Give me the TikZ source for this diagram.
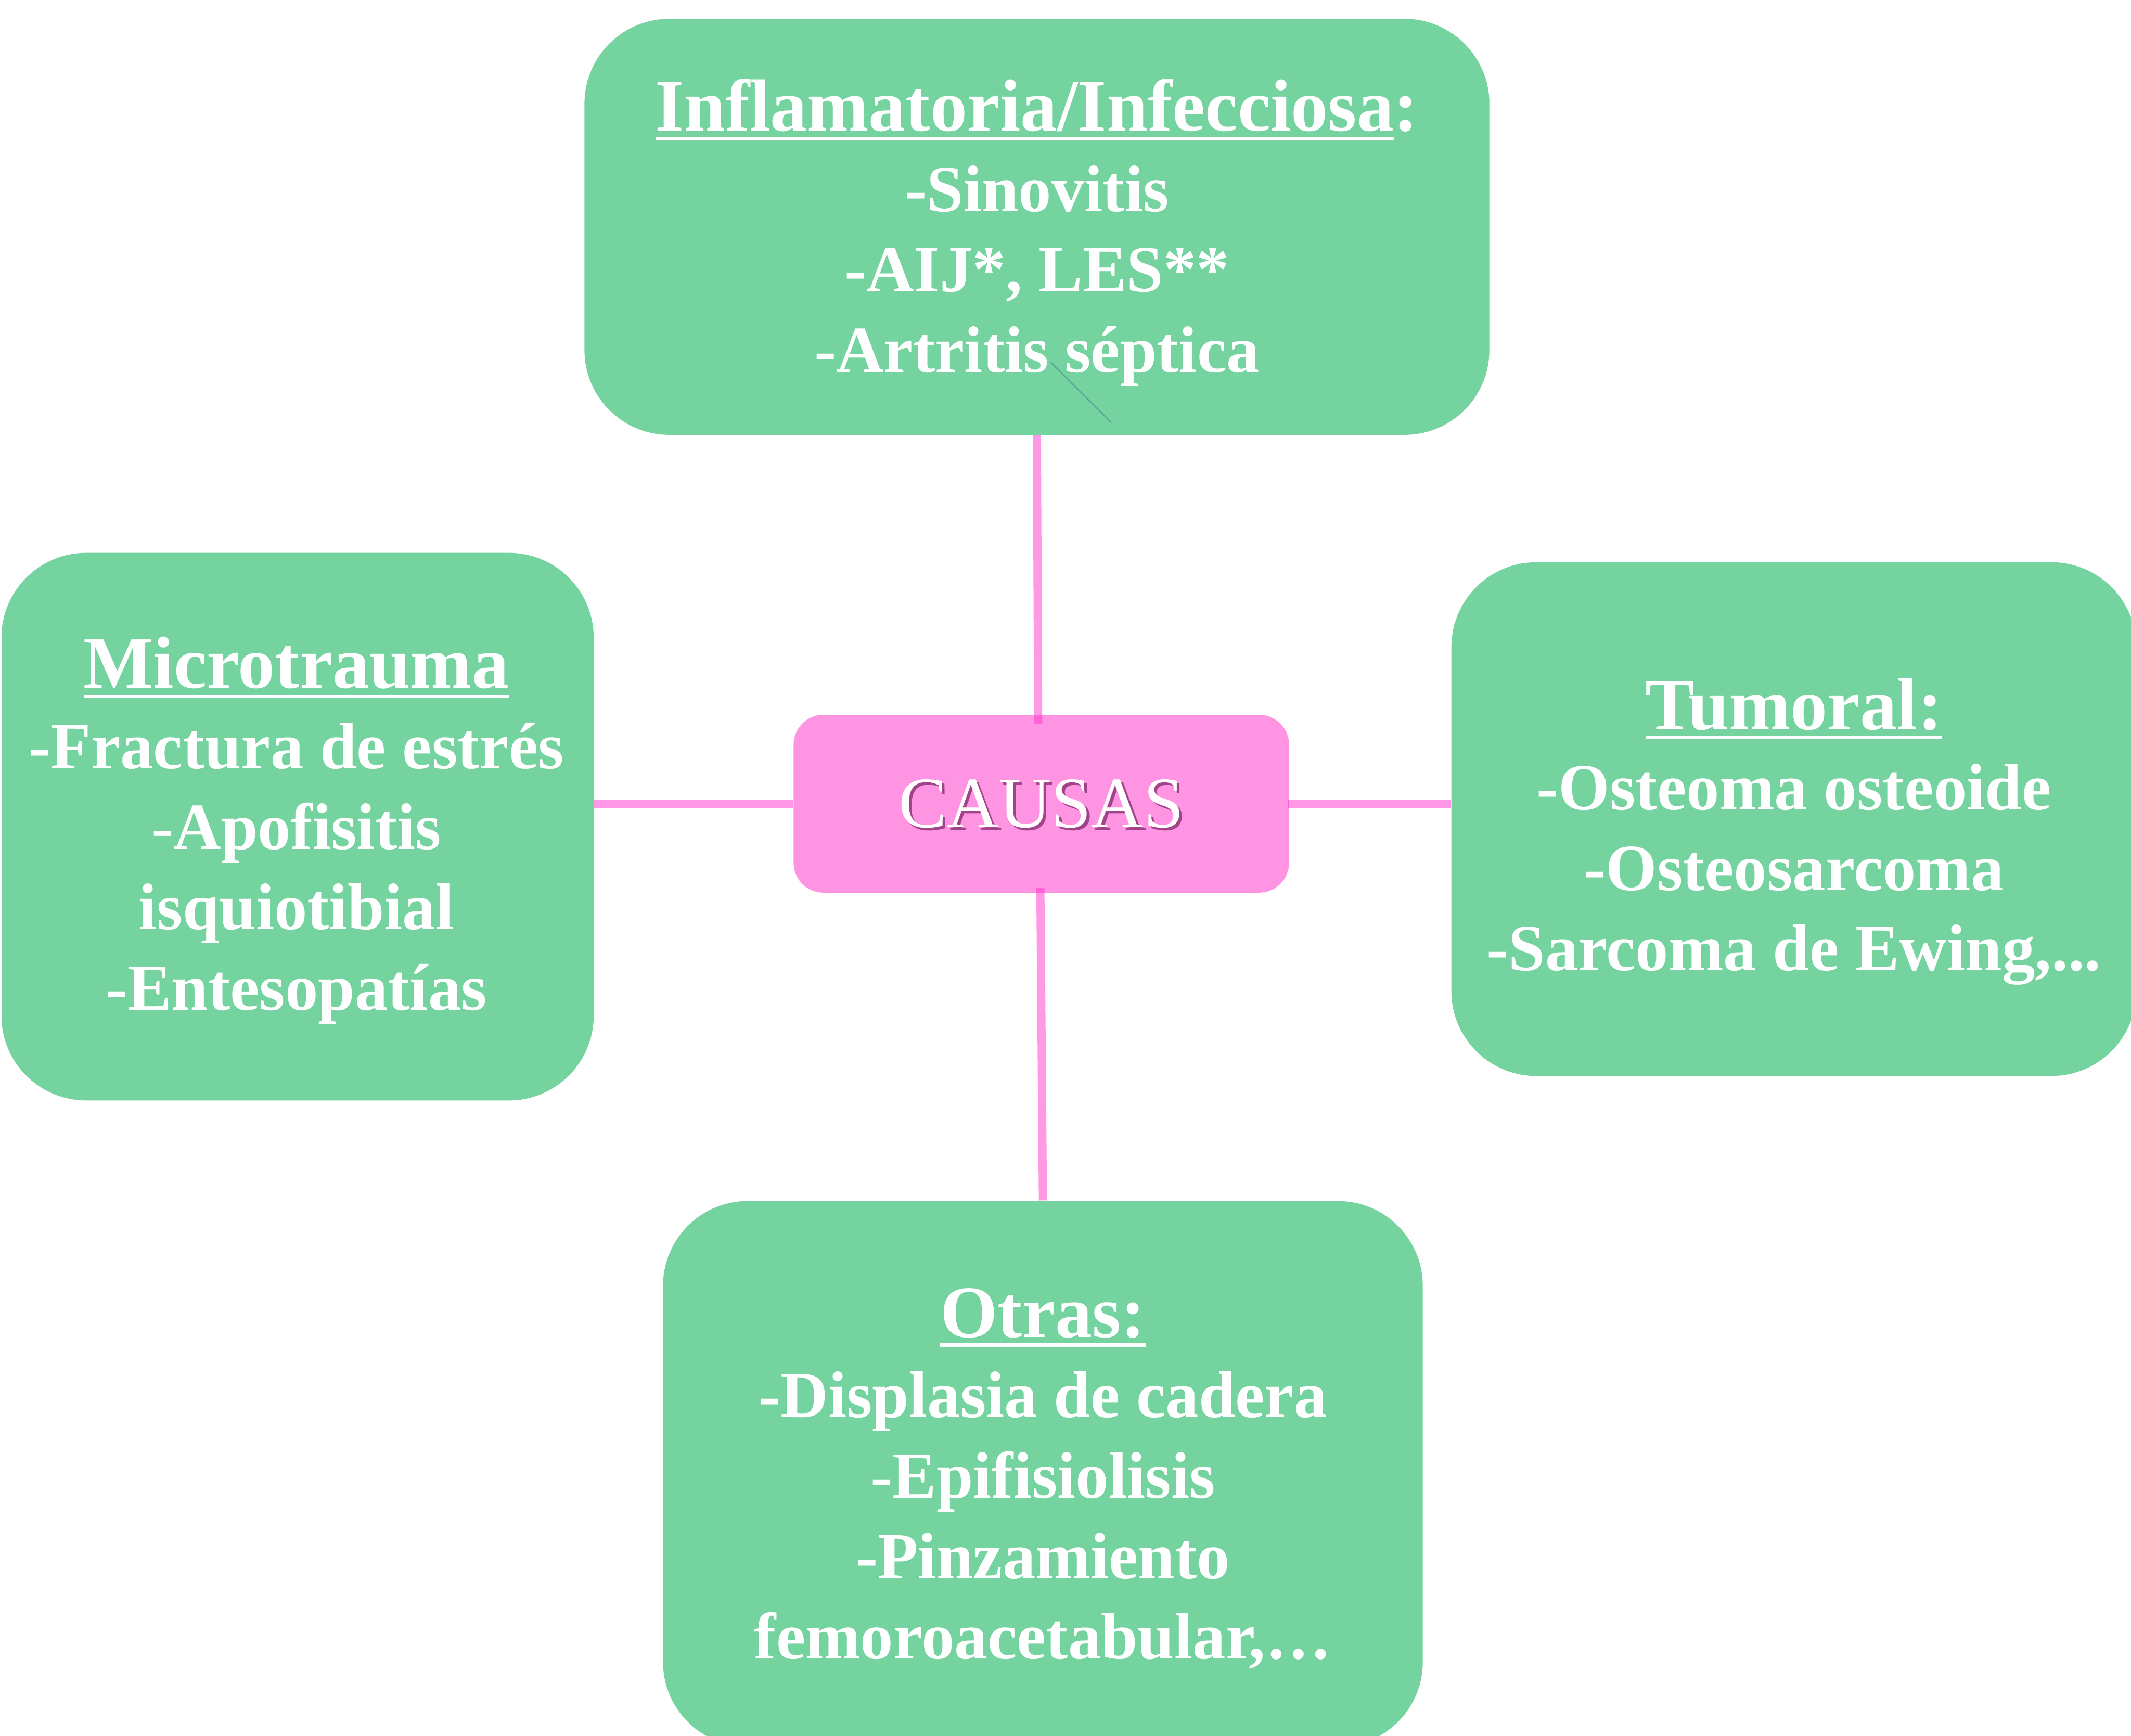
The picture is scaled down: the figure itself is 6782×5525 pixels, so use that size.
\documentclass[tikz,border=0pt]{standalone}
\usepackage{fontspec}
\setmainfont{Liberation Serif}
\usetikzlibrary{calc}

\definecolor{leaf}{RGB}{116,211,159}
\definecolor{blush}{RGB}{255,148,227}
\definecolor{linkpink}{RGB}{255,51,204}
\definecolor{plum}{RGB}{120,35,100}
\definecolor{strayteal}{RGB}{60,120,140}

% underline drawn as a rule just below the baseline
\newlength\ulwidth
\newcommand\ulbar[1]{\settowidth\ulwidth{#1}\rlap{\rule[-3.1pt]{\ulwidth}{1.1pt}}#1}
% heading size inside the boxes
\newcommand\headsize{\fontsize{23.5}{25.6}\selectfont}

\begin{document}
\begin{tikzpicture}[x=0.1pt,y=-0.1pt,
  group/.style={fill=leaf, rounded corners=27pt, inner sep=0pt},
  grouptext/.style={text=white, align=center, inner sep=0pt,
    font=\bfseries\fontsize{21}{25.6}\selectfont},
  hub/.style={fill=blush, rounded corners=9.5pt, inner sep=0pt,
    minimum width=157.7pt, minimum height=56.6pt},
  hubtext/.style={font=\fontsize{23}{26}\selectfont, inner sep=0pt},
  link/.style={draw=linkpink, draw opacity=0.5, line width=2.6pt}]
\useasboundingbox (0,0) rectangle (6782,5525);

% category boxes
\node[group, minimum width=288pt, minimum height=132.4pt] (top) at (3300,722) {};
\node[group, minimum width=188.5pt, minimum height=174.3pt] (left) at (947,2631) {};
\node[group, minimum width=218pt, minimum height=163.5pt] (right) at (5709,2607) {};
\node[group, minimum width=241.8pt, minimum height=173.7pt] (bottom) at (3319,4691) {};

% thin stray stroke inside the top box
\coordinate (strayA) at (3344,1153);
\coordinate (strayB) at (3537,1345);
\draw[strayteal, line width=0.35pt, opacity=0.55] (strayA) -- (strayB);

% box contents
\node[grouptext] (toptext) at ($(top)+(0,18)$)
  {{\headsize\ulbar{Inflamatoria/Infecciosa}:}\\-Sinovitis\\-AIJ*, LES**\\-Artritis séptica};
\node[grouptext] (lefttext) at ($(left)+(-4,12)$)
  {{\headsize\ulbar{Microtrauma}}\\-Fractura de estrés\\{\mdseries-}Apofisitis\\isquiotibial\\-Entesopatías};
\node[grouptext] (righttext) at ($(right)+(0,40)$)
  {{\headsize\ulbar{Tumoral:}}\\-Osteoma osteoide\\-Osteosarcoma\\-Sarcoma de Ewing,...};
\node[grouptext] (bottomtext) at ($(bottom)+(0,15)$)
  {{\headsize\ulbar{Otras:}}\\-Displasia de cadera\\-Epifisiolisis\\-Pinzamiento\\femoroacetabular,…};

% central hub
\node[hub] (hub) at (3314,2558) {};
\node[hubtext, text=plum, opacity=0.7] (hubshadow) at ($(hub)+(9,9)$) {CAUSAS};
\node[hubtext, text=white] (hubtitle) at (hub) {CAUSAS};

% connectors
\draw[link] (top.south) -- ($(hub.north)+(-10,30)$);
\draw[link] ($(hub.south)+(-3,-17)$) -- (bottom.north);
\draw[link] (left.east |- hub.west) -- (hub.west);
\draw[link] ($(hub.east)+(-6,0)$) -- (right.west |- hub.east);
\end{tikzpicture}
\end{document}
